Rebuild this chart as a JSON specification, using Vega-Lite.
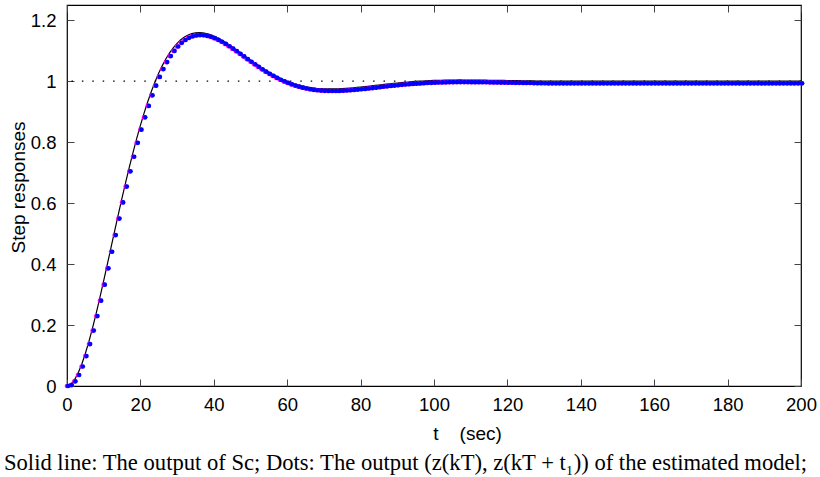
{
"$schema":"https://vega.github.io/schema/vega-lite/v6.json",
"width":734,"height":381,
"autosize":{"type":"none"},
"padding":{"left":67,"top":5,"right":19,"bottom":91},
"background":"white",
"title":{"text":"Solid line: The output of Sc; Dots: The output (z(kT), z(kT + t₁)) of the estimated model;","orient":"bottom","anchor":"start","frame":"group","dx":-63,"offset":9,"font":"Liberation Serif","fontSize":22.6,"fontWeight":"normal","color":"black"},
"config":{"view":{"stroke":"black","strokeWidth":1.2},"axis":{"grid":false,"domain":false,"labelFont":"Liberation Sans","labelFontSize":18.5,"labelColor":"black","titleFont":"Liberation Sans","titleFontSize":19,"titleFontWeight":"normal","titleColor":"black","tickColor":"#444","tickSize":7,"tickWidth":1,"labelFlush":false,"labelOverlap":false}},
"datasets":{
"line":[{"t":0,"y":0},{"t":1,"y":0.0049},{"t":2,"y":0.0192},{"t":3,"y":0.0415},{"t":4,"y":0.0708},{"t":5,"y":0.1065},{"t":6,"y":0.1472},{"t":7,"y":0.1924},{"t":8,"y":0.241},{"t":9,"y":0.2923},{"t":10,"y":0.3455},{"t":11,"y":0.3998},{"t":12,"y":0.4546},{"t":13,"y":0.5095},{"t":14,"y":0.5639},{"t":15,"y":0.6171},{"t":16,"y":0.669},{"t":17,"y":0.719},{"t":18,"y":0.7668},{"t":19,"y":0.8123},{"t":20,"y":0.8553},{"t":21,"y":0.8954},{"t":22,"y":0.9327},{"t":23,"y":0.967},{"t":24,"y":0.9983},{"t":25,"y":1.0266},{"t":26,"y":1.0519},{"t":27,"y":1.0743},{"t":28,"y":1.0937},{"t":29,"y":1.1103},{"t":30,"y":1.1243},{"t":31,"y":1.1358},{"t":32,"y":1.1447},{"t":33,"y":1.1514},{"t":34,"y":1.156},{"t":35,"y":1.1586},{"t":36,"y":1.1595},{"t":37,"y":1.1586},{"t":38,"y":1.1564},{"t":39,"y":1.1528},{"t":40,"y":1.1481},{"t":41,"y":1.1425},{"t":42,"y":1.136},{"t":43,"y":1.1288},{"t":44,"y":1.121},{"t":45,"y":1.1129},{"t":46,"y":1.1044},{"t":47,"y":1.0957},{"t":48,"y":1.087},{"t":49,"y":1.0782},{"t":50,"y":1.0696},{"t":51,"y":1.0611},{"t":52,"y":1.0528},{"t":53,"y":1.0448},{"t":54,"y":1.0372},{"t":55,"y":1.0299},{"t":56,"y":1.0231},{"t":57,"y":1.0167},{"t":58,"y":1.0107},{"t":59,"y":1.0053},{"t":60,"y":1.0003},{"t":61,"y":0.9958},{"t":62,"y":0.9917},{"t":63,"y":0.9882},{"t":64,"y":0.9851},{"t":65,"y":0.9824},{"t":66,"y":0.9802},{"t":67,"y":0.9784},{"t":68,"y":0.9769},{"t":69,"y":0.9759},{"t":70,"y":0.9751},{"t":71,"y":0.9747},{"t":72,"y":0.9746},{"t":73,"y":0.9747},{"t":74,"y":0.975},{"t":75,"y":0.9756},{"t":76,"y":0.9764},{"t":77,"y":0.9773},{"t":78,"y":0.9783},{"t":79,"y":0.9795},{"t":80,"y":0.9807},{"t":81,"y":0.982},{"t":82,"y":0.9833},{"t":83,"y":0.9847},{"t":84,"y":0.9861},{"t":85,"y":0.9875},{"t":86,"y":0.9889},{"t":87,"y":0.9903},{"t":88,"y":0.9916},{"t":89,"y":0.9928},{"t":90,"y":0.994},{"t":91,"y":0.9953},{"t":92,"y":0.9963},{"t":93,"y":0.9973},{"t":94,"y":0.9983},{"t":95,"y":0.9992},{"t":96,"y":1},{"t":97,"y":1.0007},{"t":98,"y":1.0013},{"t":99,"y":1.0019},{"t":100,"y":1.0024},{"t":101,"y":1.0028},{"t":102,"y":1.0032},{"t":103,"y":1.0034},{"t":104,"y":1.0037},{"t":105,"y":1.0038},{"t":106,"y":1.004},{"t":107,"y":1.0041},{"t":108,"y":1.004},{"t":109,"y":1.004},{"t":110,"y":1.0039},{"t":111,"y":1.0039},{"t":112,"y":1.0038},{"t":113,"y":1.0036},{"t":114,"y":1.0035},{"t":115,"y":1.0032},{"t":116,"y":1.0031},{"t":117,"y":1.0029},{"t":118,"y":1.0026},{"t":119,"y":1.0024},{"t":120,"y":1.0022},{"t":121,"y":1.002},{"t":122,"y":1.0018},{"t":123,"y":1.0016},{"t":124,"y":1.0014},{"t":125,"y":1.0012},{"t":126,"y":1.001},{"t":127,"y":1.0008},{"t":128,"y":1.0006},{"t":129,"y":1.0004},{"t":130,"y":1.0002},{"t":131,"y":1.0001},{"t":132,"y":1},{"t":200,"y":1}],
"dots":[{"t":0,"y":0},{"t":1,"y":0.003},{"t":2,"y":0.0154},{"t":3,"y":0.036},{"t":4,"y":0.0639},{"t":5,"y":0.0982},{"t":6,"y":0.1376},{"t":7,"y":0.1817},{"t":8,"y":0.2294},{"t":9,"y":0.2798},{"t":10,"y":0.3324},{"t":11,"y":0.3862},{"t":12,"y":0.4405},{"t":13,"y":0.4951},{"t":14,"y":0.5492},{"t":15,"y":0.6024},{"t":16,"y":0.6542},{"t":17,"y":0.7042},{"t":18,"y":0.7522},{"t":19,"y":0.7978},{"t":20,"y":0.8411},{"t":21,"y":0.8815},{"t":22,"y":0.919},{"t":23,"y":0.9537},{"t":24,"y":0.9854},{"t":25,"y":1.014},{"t":26,"y":1.0398},{"t":27,"y":1.0626},{"t":28,"y":1.0824},{"t":29,"y":1.0994},{"t":30,"y":1.1138},{"t":31,"y":1.1259},{"t":32,"y":1.1351},{"t":33,"y":1.1423},{"t":34,"y":1.1472},{"t":35,"y":1.1501},{"t":36,"y":1.1514},{"t":37,"y":1.1508},{"t":38,"y":1.1489},{"t":39,"y":1.1455},{"t":40,"y":1.1411},{"t":41,"y":1.1357},{"t":42,"y":1.1294},{"t":43,"y":1.1224},{"t":44,"y":1.1147},{"t":45,"y":1.1068},{"t":46,"y":1.0984},{"t":47,"y":1.0897},{"t":48,"y":1.0812},{"t":49,"y":1.0723},{"t":50,"y":1.0638},{"t":51,"y":1.0554},{"t":52,"y":1.047},{"t":53,"y":1.0391},{"t":54,"y":1.0314},{"t":55,"y":1.0241},{"t":56,"y":1.0172},{"t":57,"y":1.0108},{"t":58,"y":1.0047},{"t":59,"y":0.9993},{"t":60,"y":0.9943},{"t":61,"y":0.9897},{"t":62,"y":0.9856},{"t":63,"y":0.982},{"t":64,"y":0.9788},{"t":65,"y":0.976},{"t":66,"y":0.9737},{"t":67,"y":0.9718},{"t":68,"y":0.9704},{"t":69,"y":0.9693},{"t":70,"y":0.9684},{"t":71,"y":0.968},{"t":72,"y":0.9678},{"t":73,"y":0.9679},{"t":74,"y":0.9681},{"t":75,"y":0.9687},{"t":76,"y":0.9694},{"t":77,"y":0.9703},{"t":78,"y":0.9713},{"t":79,"y":0.9724},{"t":80,"y":0.9736},{"t":81,"y":0.9748},{"t":82,"y":0.9761},{"t":83,"y":0.9775},{"t":84,"y":0.9789},{"t":85,"y":0.9803},{"t":86,"y":0.9817},{"t":87,"y":0.9831},{"t":88,"y":0.9844},{"t":89,"y":0.9856},{"t":90,"y":0.9868},{"t":91,"y":0.9881},{"t":92,"y":0.9891},{"t":93,"y":0.9901},{"t":94,"y":0.9911},{"t":95,"y":0.992},{"t":96,"y":0.9928},{"t":97,"y":0.9936},{"t":98,"y":0.9942},{"t":99,"y":0.9948},{"t":100,"y":0.9953},{"t":101,"y":0.9957},{"t":102,"y":0.9961},{"t":103,"y":0.9963},{"t":104,"y":0.9967},{"t":105,"y":0.9968},{"t":106,"y":0.997},{"t":107,"y":0.9971},{"t":108,"y":0.997},{"t":109,"y":0.997},{"t":110,"y":0.9969},{"t":111,"y":0.9969},{"t":112,"y":0.9968},{"t":113,"y":0.9966},{"t":114,"y":0.9965},{"t":115,"y":0.9962},{"t":116,"y":0.9961},{"t":117,"y":0.9959},{"t":118,"y":0.9956},{"t":119,"y":0.9954},{"t":120,"y":0.9952},{"t":121,"y":0.995},{"t":122,"y":0.9948},{"t":123,"y":0.9946},{"t":124,"y":0.9944},{"t":125,"y":0.9942},{"t":126,"y":0.994},{"t":127,"y":0.9938},{"t":128,"y":0.9936},{"t":129,"y":0.9934},{"t":130,"y":0.9932},{"t":131,"y":0.993},{"t":132,"y":0.993},{"t":133,"y":0.993},{"t":134,"y":0.993},{"t":135,"y":0.993},{"t":136,"y":0.993},{"t":137,"y":0.993},{"t":138,"y":0.993},{"t":139,"y":0.993},{"t":140,"y":0.993},{"t":141,"y":0.993},{"t":142,"y":0.993},{"t":143,"y":0.993},{"t":144,"y":0.993},{"t":145,"y":0.993},{"t":146,"y":0.993},{"t":147,"y":0.993},{"t":148,"y":0.993},{"t":149,"y":0.993},{"t":150,"y":0.993},{"t":151,"y":0.993},{"t":152,"y":0.993},{"t":153,"y":0.993},{"t":154,"y":0.993},{"t":155,"y":0.993},{"t":156,"y":0.993},{"t":157,"y":0.993},{"t":158,"y":0.993},{"t":159,"y":0.993},{"t":160,"y":0.993},{"t":161,"y":0.993},{"t":162,"y":0.993},{"t":163,"y":0.993},{"t":164,"y":0.993},{"t":165,"y":0.993},{"t":166,"y":0.993},{"t":167,"y":0.993},{"t":168,"y":0.993},{"t":169,"y":0.993},{"t":170,"y":0.993},{"t":171,"y":0.993},{"t":172,"y":0.993},{"t":173,"y":0.993},{"t":174,"y":0.993},{"t":175,"y":0.993},{"t":176,"y":0.993},{"t":177,"y":0.993},{"t":178,"y":0.993},{"t":179,"y":0.993},{"t":180,"y":0.993},{"t":181,"y":0.993},{"t":182,"y":0.993},{"t":183,"y":0.993},{"t":184,"y":0.993},{"t":185,"y":0.993},{"t":186,"y":0.993},{"t":187,"y":0.993},{"t":188,"y":0.993},{"t":189,"y":0.993},{"t":190,"y":0.993},{"t":191,"y":0.993},{"t":192,"y":0.993},{"t":193,"y":0.993},{"t":194,"y":0.993},{"t":195,"y":0.993},{"t":196,"y":0.993},{"t":197,"y":0.993},{"t":198,"y":0.993},{"t":199,"y":0.993},{"t":200,"y":0.993}],
"ref":[{"level":1}]
},
"resolve":{"axis":{"x":"independent","y":"independent"}},
"layer":[
{"data":{"name":"ref"},"mark":{"type":"rule","color":"black","strokeWidth":1.3,"strokeDash":[1.5,8.9]},
 "encoding":{"y":{"field":"level","type":"quantitative","scale":{"domain":[0,1.25],"nice":false},"axis":null}}},
{"data":{"name":"line"},"mark":{"type":"line","color":"black","strokeWidth":1.2},
 "encoding":{
  "x":{"field":"t","type":"quantitative","scale":{"domain":[0,200],"nice":false},
   "axis":{"orient":"bottom","values":[0,20,40,60,80,100,120,140,160,180,200],"ticks":false,"labelPadding":9,"title":"t\u00a0\u00a0\u00a0\u00a0(sec)","titleX":400,"titleY":38,"titleBaseline":"top"}},
  "y":{"field":"y","type":"quantitative","scale":{"domain":[0,1.25],"nice":false},
   "axis":{"orient":"left","values":[0,0.2,0.4,0.6,0.8,1,1.2],"format":"~g","ticks":false,"labelPadding":11,"title":"Step responses","titleX":-49,"titleY":182,"titleBaseline":"middle"}}}},
{"data":{"name":"dots"},"mark":{"type":"circle","color":"#ff00ff","opacity":1,"size":22},
 "encoding":{
  "x":{"field":"t","type":"quantitative","scale":{"domain":[0,200],"nice":false},
   "axis":{"orient":"top","offset":-7,"values":[0,20,40,60,80,100,120,140,160,180,200],"labels":false,"title":null}},
  "y":{"field":"y","type":"quantitative","scale":{"domain":[0,1.25],"nice":false},
   "axis":{"orient":"right","offset":-7,"values":[0,0.2,0.4,0.6,0.8,1,1.2],"labels":false,"title":null}}}},
{"data":{"name":"dots"},"mark":{"type":"circle","color":"#0000ff","opacity":1,"size":22},
 "encoding":{
  "x":{"field":"t","type":"quantitative","scale":{"domain":[0,200],"nice":false},
   "axis":{"orient":"bottom","offset":-7,"values":[0,20,40,60,80,100,120,140,160,180,200],"labels":false,"title":null}},
  "xOffset":{"value":1.1},
  "y":{"field":"y","type":"quantitative","scale":{"domain":[0,1.25],"nice":false},
   "axis":{"orient":"left","offset":-7,"values":[0,0.2,0.4,0.6,0.8,1,1.2],"labels":false,"title":null}}}}
]
}
